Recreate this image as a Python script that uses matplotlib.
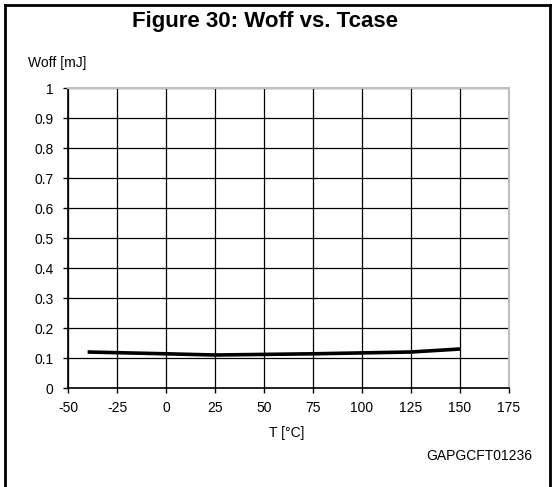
import matplotlib
matplotlib.use("Agg")
import matplotlib.pyplot as plt
from matplotlib.lines import Line2D

plt.rcParams['font.family'] = ['Liberation Sans', 'DejaVu Sans']
plt.rcParams['axes.unicode_minus'] = False

temps = [-40, 0, 25, 75, 100, 125, 150]
woff = [0.120, 0.114, 0.110, 0.114, 0.117, 0.120, 0.130]
x_ticks = [-50, -25, 0, 25, 50, 75, 100, 125, 150, 175]
y_ticks = [0, 0.1, 0.2, 0.3, 0.4, 0.5, 0.6, 0.7, 0.8, 0.9, 1]
y_labels = ["0", "0.1", "0.2", "0.3", "0.4", "0.5", "0.6", "0.7", "0.8", "0.9", "1"]

W, H = 552, 487
fig = plt.figure(figsize=(W / 100, H / 100), dpi=100)

ax = fig.add_axes([68 / W, (H - 388) / H, (509 - 68) / W, (388 - 88) / H])
ax.plot(temps, woff, color='black', lw=2.6, solid_capstyle='butt', zorder=3)
ax.set_xlim(-50, 175)
ax.set_ylim(0, 1)
ax.set_xticks(x_ticks)
ax.set_yticks(y_ticks)
ax.set_yticklabels(y_labels)
ax.grid(True, color='black', lw=0.9)
ax.tick_params(direction='out', length=3.5, width=1, labelsize=10, color='black')
ax.tick_params(axis='x', pad=6)
ax.tick_params(axis='y', pad=7)
for s in ['left', 'bottom']:
    ax.spines[s].set_color('black')
    ax.spines[s].set_linewidth(1.2)
for s in ['top', 'right']:
    ax.spines[s].set_color('#c0c0c0')
    ax.spines[s].set_linewidth(1.5)

fig.text(265 / W, 1 - 21 / H, "Figure 30: Woff vs. Tcase", ha='center', va='center',
         fontsize=16, fontweight='bold')
fig.text(28 / W, 1 - 63 / H, "Woff [mJ]", ha='left', va='center', fontsize=10)
fig.text(287 / W, 1 - 433 / H, "T [°C]", ha='center', va='center', fontsize=10)
fig.text(532 / W, 1 - 456 / H, "GAPGCFT01236", ha='right', va='center', fontsize=10)

# outer frame (top, left, right)
fig.add_artist(Line2D([5 / W, 550 / W], [1 - 5 / H, 1 - 5 / H], transform=fig.transFigure,
                      color='black', lw=2))
fig.add_artist(Line2D([5 / W, 5 / W], [1 - 5 / H, 0], transform=fig.transFigure,
                      color='black', lw=2))
fig.add_artist(Line2D([550 / W, 550 / W], [1 - 5 / H, 0], transform=fig.transFigure,
                      color='black', lw=2))

fig.savefig("out.png", dpi=100)
